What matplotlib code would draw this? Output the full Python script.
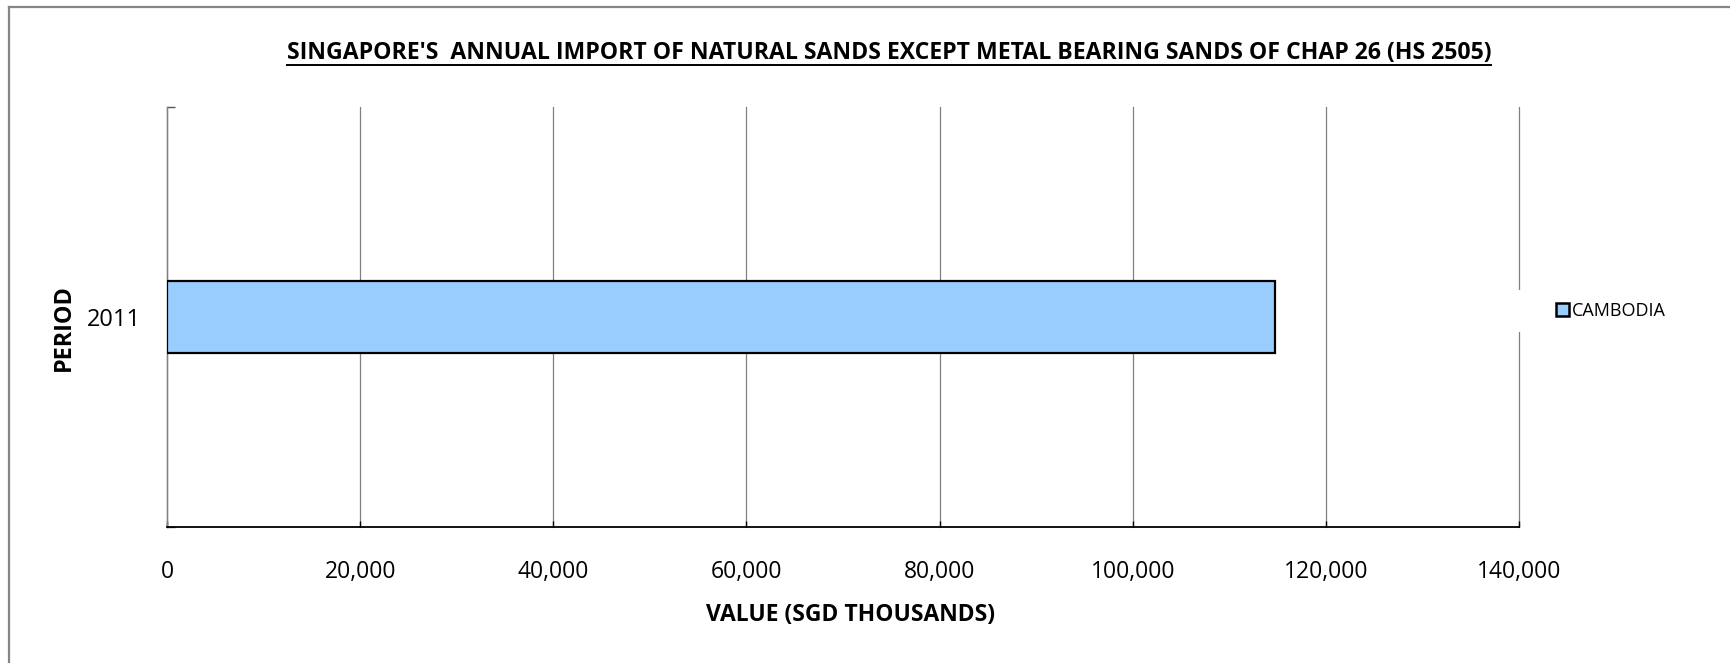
import matplotlib
matplotlib.use("Agg")
import matplotlib.pyplot as plt
from matplotlib.patches import Rectangle, Patch
from matplotlib.lines import Line2D
from matplotlib.ticker import FuncFormatter

# ---- data ----
periods = ["2011"]
series_name = "CAMBODIA"
values = [114700]
x_ticks = [0, 20000, 40000, 60000, 80000, 100000, 120000, 140000]
title = "SINGAPORE'S  ANNUAL IMPORT OF NATURAL SANDS EXCEPT METAL BEARING SANDS OF CHAP 26 (HS 2505)"
x_label = "VALUE (SGD THOUSANDS)"
y_label = "PERIOD"

W, H = 1731, 663
DPI = 100
plt.rcParams['font.family'] = ['Open Sans', 'DejaVu Sans']
fig = plt.figure(figsize=(W / DPI, H / DPI), dpi=DPI)
fig.patch.set_facecolor('white')

def fx(px):
    return px / W

def fy(py):
    return 1 - py / H

L, R, T, B = 167, 1519, 107, 527
ax = fig.add_axes([fx(L), fy(B), (R - L) / W, (B - T) / H])

ypos = list(range(len(periods)))
ax.barh(ypos, values, height=0.17, color='#99CCFF', edgecolor='black',
        linewidth=1.6, zorder=3, label=series_name)

ax.set_xlim(0, 140000)
ax.set_ylim(-0.5, len(periods) - 0.5)
ax.set_xticks(x_ticks)
ax.xaxis.set_major_formatter(FuncFormatter(lambda v, p: f"{int(v):,}"))
ax.set_yticks(ypos)
ax.set_yticklabels(periods)
ax.set_yticks([-0.5, len(periods) - 0.5], minor=True)

ax.set_axisbelow(True)
ax.grid(axis='x', color='#808080', linewidth=0.9)
ax.grid(axis='y', visible=False)
for gl in ax.get_xgridlines():
    gl.set_clip_on(False)

for s in ['top', 'right']:
    ax.spines[s].set_visible(False)
ax.spines['left'].set_color('#808080')
ax.spines['left'].set_linewidth(1.0)
ax.spines['bottom'].set_color('black')
ax.spines['bottom'].set_linewidth(1.3)

ax.tick_params(axis='x', direction='in', length=4, width=1, color='black',
               labelsize=16.5, pad=24, labelcolor='black')
ax.tick_params(axis='y', which='major', length=0, labelsize=17, pad=19)
ax.tick_params(axis='y', which='minor', direction='in', length=6, width=1, color='#555555')

ax.set_xlabel(x_label, fontsize=16.5, fontweight='bold', va='center')
ax.xaxis.set_label_coords((851 - L) / (R - L), (B - 615) / (B - T))
ax.set_ylabel(y_label, fontsize=16.8, fontweight='bold', va='center')
ax.yaxis.set_label_coords((64 - L) / (R - L), (B - 328) / (B - T))

# title
t = fig.text(fx(889), fy(53), title, ha='center', va='center',
             fontsize=16.6, fontweight='bold')
# underline
fig.canvas.draw()
bb = t.get_window_extent()
fig.add_artist(Line2D([bb.x0 / W, bb.x1 / W], [fy(65), fy(65)],
                      color='black', linewidth=1.4))

# legend background (white box interrupting gridline)
fig.add_artist(Rectangle((fx(1506), fy(332)), fx(1700) - fx(1506), fy(290) - fy(332),
                         transform=fig.transFigure, facecolor='white',
                         edgecolor='none', zorder=5))
handle = Patch(facecolor='#99CCFF', edgecolor='black', linewidth=1.8)
leg = fig.legend([handle], [series_name], loc='center left',
                 bbox_to_anchor=(fx(1543), fy(311)), frameon=False,
                 fontsize=13, handlelength=0.72, handleheight=0.72,
                 handletextpad=0.2, borderpad=0.2)
leg.set_zorder(6)

# chart border
fig.add_artist(Line2D([fx(9), fx(9)], [0, fy(7)], color='#868686', linewidth=1.6))
fig.add_artist(Line2D([fx(9), 1], [fy(7), fy(7)], color='#868686', linewidth=1.6))

fig.savefig("out.png", dpi=DPI, facecolor='white')
